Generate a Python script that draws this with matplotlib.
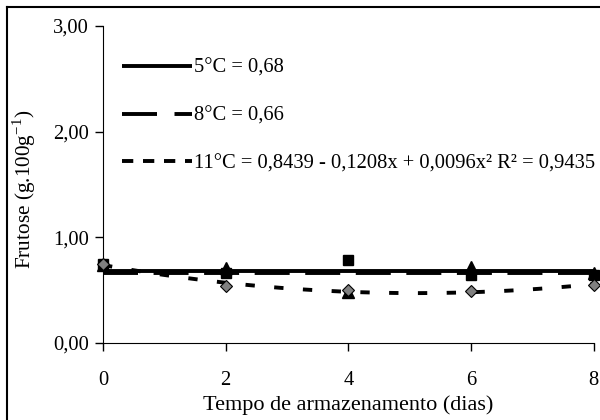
import numpy as np
import matplotlib
matplotlib.use("Agg")
import matplotlib.pyplot as plt
from matplotlib.lines import Line2D

plt.rcParams['font.family'] = ['Liberation Serif', 'DejaVu Serif']
plt.rcParams['mathtext.fontset'] = 'custom'
plt.rcParams['mathtext.rm'] = 'Liberation Serif'

dias = [0, 2, 4, 6, 8]
t5 = [0.74, 0.71, 0.48, 0.72, 0.66]     # triangles
t8 = [0.75, 0.66, 0.79, 0.64, 0.64]     # squares
t11 = [0.75, 0.54, 0.50, 0.49, 0.55]    # diamonds
mean5 = 0.68
mean8 = 0.66
labels = ["5°C = 0,68", "8°C = 0,66",
          "11°C = 0,8439 - 0,1208x + 0,0096x² R² = 0,9435"]
xticks = [0, 2, 4, 6, 8]
yticks = [0, 1, 2, 3]

FS = 14.8

fig = plt.figure(figsize=(6, 4.2), dpi=100)
ax = fig.add_axes([0.1717, 0.1833, 0.818, 0.755])

# figure border (left and top)
fig.add_artist(Line2D([0.0117, 0.0117], [0, 0.983], transform=fig.transFigure, color='black', lw=1.5))
fig.add_artist(Line2D([0.0117, 1.0], [0.983, 0.983], transform=fig.transFigure, color='black', lw=1.5))

xfit = np.linspace(0, 8, 200)
coef = np.polyfit(dias, t11, 2)

l5, = ax.plot([dias[0], dias[-1]], [mean5, mean5], color='black', lw=2.8, solid_capstyle='butt')
l8, = ax.plot([dias[0], dias[-1]], [mean8, mean8], color='black', lw=2.8, dashes=(9, 4))
ax.plot(xfit, np.polyval(coef, xfit), color='black', lw=2.8, dashes=(2.4, 5))

ax.plot(dias, t5, linestyle='none', marker='^', ms=8.5, color='black', clip_on=False, zorder=5)
ax.plot(dias, t8, linestyle='none', marker='s', ms=7, color='black', clip_on=False, zorder=5)
ax.plot(dias, t11, linestyle='none', marker='D', ms=6.5, mfc='#808080', mec='black', mew=0.8, clip_on=False, zorder=6)

ax.set_xlim(0, 8)
ax.set_ylim(0, 3)
ax.set_xticks(xticks)
ax.set_yticks(yticks)
ax.set_yticklabels([f"{v:.2f}".replace('.', ',') for v in yticks])
ax.spines['top'].set_visible(False)
ax.spines['right'].set_visible(False)
ax.tick_params(axis='both', direction='out', length=6, width=1, labelsize=FS)
ax.tick_params(axis='x', pad=14)
ax.tick_params(axis='y', pad=4)
ax.set_xlabel("Tempo de armazenamento (dias)", fontsize=16, labelpad=4)
ax.set_ylabel("Frutose (g.100g$^{-1}$)", fontsize=FS + 0.5, labelpad=6)
ax.yaxis.set_label_coords(-0.133, 0.485)

h5 = Line2D([], [], color='black', lw=2.8, solid_capstyle='butt')
h8 = Line2D([], [], color='black', lw=2.8, dashes=(9, 4.5))
h11 = Line2D([], [], color='black', lw=2.8, dashes=(2.9, 2.5))
leg = ax.legend([h5, h8, h11], labels, loc='upper left', bbox_to_anchor=(0.022, 0.923),
                frameon=False, fontsize=FS, handlelength=3.4, handletextpad=0.1,
                labelspacing=1.38, borderaxespad=0)

fig.savefig("out.png", dpi=100)
